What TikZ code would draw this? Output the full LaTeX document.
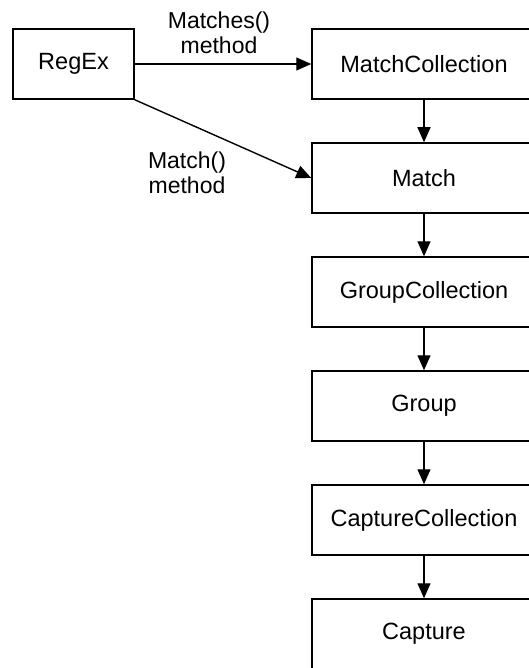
\documentclass[tikz,border=0pt]{standalone}
\usepackage{fontspec}
\setmainfont{Liberation Sans}
\usetikzlibrary{arrows.meta}
\begin{document}
\begin{tikzpicture}[x=1pt,y=-1pt,
  box/.style={draw, line width=1.5pt, inner sep=0pt, minimum height=70pt, font=\fontsize{23.5}{25}\selectfont},
  rbox/.style={box, minimum width=224pt},
  conn/.style={line width=1.4pt, -{Triangle[length=15pt,width=13pt]}},
  lbl/.style={align=center, inner sep=0pt, font=\fontsize{23}{25}\selectfont}]
\useasboundingbox (0,0) rectangle (529,668);
\clip (0,0) rectangle (529,668);
\node[box, minimum width=121pt] (regex) at (73.5,64) {RegEx};
\node[rbox] (mc) at (424,64) {MatchCollection};
\node[rbox] (m) at (424,178) {Match};
\node[rbox] (gc) at (424,292) {GroupCollection};
\node[rbox] (g) at (424,406) {Group};
\node[rbox] (cc) at (424,520) {CaptureCollection};
\node[rbox] (c) at (424,634) {Capture};
\draw[conn] (regex.east) -- (mc.west);
\draw[conn] (regex.south east) -- (m.west);
\draw[conn] (mc.south) -- (m.north);
\draw[conn] (m.south) -- (gc.north);
\draw[conn] (gc.south) -- (g.north);
\draw[conn] (g.south) -- (cc.north);
\draw[conn] (cc.south) -- (c.north);
\node[lbl] (l1) at (219,33) {Matches()\\method};
\node[lbl] (l2) at (187,173) {Match()\\method};
\end{tikzpicture}
\end{document}
